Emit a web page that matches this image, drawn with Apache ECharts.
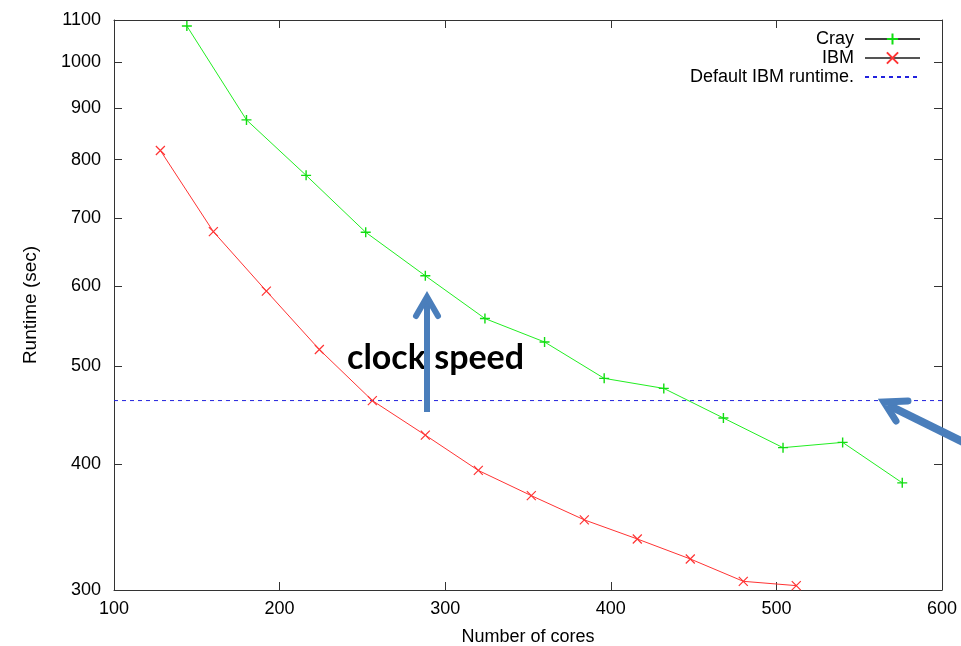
<!DOCTYPE html>
<html>
<head>
<meta charset="utf-8">
<script src="https://cdn.jsdelivr.net/npm/echarts@6/dist/echarts.min.js"></script>
<style>
  html, body { margin: 0; padding: 0; background: #fff; }
  #chart { width: 961px; height: 646px; }
</style>
</head>
<body>
<div id="chart"></div>
<script>
  // data
  const crayCores = [144, 180, 216, 252, 288, 324, 360, 396, 432, 468, 504, 540, 576];
  const crayRuntime = [1085, 876, 772, 678, 614, 557, 528, 486, 475, 444, 415, 420, 383];
  const ibmCores = [128, 160, 192, 224, 256, 288, 320, 352, 384, 416, 448, 480, 512];
  const ibmRuntime = [817, 679, 593, 519, 462, 427, 394, 372, 352, 337, 322, 306, 303];
  const defaultIbmRuntime = 462;
  const xRange = [100, 600];
  const yTicks = [300, 400, 500, 600, 700, 800, 900, 1000, 1100];

  const font = 'Liberation Sans, Arial, sans-serif';
  const axisColor = '#333';
  const arrowColor = '#4a7ebb';

  const plus = 'path://M0,5L10,5M5,0L5,10';
  const cross = 'path://M0,0L10,10M10,0L0,10';

  function yAxisCfg(pos, showLabel) {
    return {
      type: 'log',
      position: pos,
      min: yTicks[0],
      max: yTicks[yTicks.length - 1],
      name: showLabel ? 'Runtime (sec)' : '',
      nameLocation: 'middle',
      nameGap: 74,
      nameTextStyle: { fontFamily: font, fontSize: 19, color: '#000' },
      axisLine: { show: true, lineStyle: { color: axisColor, width: 1 } },
      axisTick: { show: true, inside: true, length: 8, customValues: yTicks, lineStyle: { color: axisColor } },
      axisLabel: {
        show: showLabel, customValues: yTicks, margin: 13,
        fontFamily: font, fontSize: 18, color: '#000',
        formatter: v => String(Math.round(v)),
        showMinLabel: true, showMaxLabel: true
      },
      splitLine: { show: false },
      minorTick: { show: false }
    };
  }

  function xAxisCfg(pos, showLabel) {
    return {
      type: 'value',
      position: pos,
      min: xRange[0],
      max: xRange[1],
      interval: 100,
      name: showLabel ? 'Number of cores' : '',
      nameLocation: 'middle',
      nameGap: 38,
      nameTextStyle: { fontFamily: font, fontSize: 18, color: '#000' },
      axisLine: { show: true, onZero: false, lineStyle: { color: axisColor, width: 1 } },
      axisTick: { show: true, inside: true, length: 8, lineStyle: { color: axisColor } },
      axisLabel: { show: showLabel, margin: 10, fontFamily: font, fontSize: 18, color: '#000' },
      splitLine: { show: false }
    };
  }

  const chart = echarts.init(document.getElementById('chart'), null, { renderer: 'canvas' });

  const option = {
    animation: false,
    backgroundColor: '#fff',
    grid: { left: 114, right: 19, top: 20, bottom: 56, containLabel: false, outerBoundsMode: 'none' },
    xAxis: [xAxisCfg('bottom', true), xAxisCfg('top', false)],
    yAxis: [yAxisCfg('left', true), yAxisCfg('right', false)],
    legend: {
      orient: 'vertical',
      right: 35,
      top: 25,
      align: 'right',
      itemWidth: 55,
      itemHeight: 14,
      itemGap: 1,
      textStyle: { fontFamily: font, fontSize: 18, color: '#000', padding: [0, 6, 0, 0] },
      data: [
        { name: 'Cray', lineStyle: { color: '#000', width: 1.5 } },
        { name: 'IBM', lineStyle: { color: '#555', width: 2 } },
        { name: 'Default IBM runtime.', itemStyle: { opacity: 0 } }
      ]
    },
    series: [
      {
        name: 'Cray',
        type: 'line',
        data: crayCores.map((c, i) => [c, crayRuntime[i]]),
        symbol: plus,
        symbolSize: 10,
        showSymbol: true,
        lineStyle: { color: '#22ee22', width: 1 },
        itemStyle: { color: '#22ee22', borderColor: '#11dd11', borderWidth: 1.4 }
      },
      {
        name: 'IBM',
        type: 'line',
        data: ibmCores.map((c, i) => [c, ibmRuntime[i]]),
        symbol: cross,
        symbolSize: 9,
        showSymbol: true,
        lineStyle: { color: '#ff3333', width: 1 },
        itemStyle: { color: '#ff3333', borderColor: '#ff3333', borderWidth: 1.2 }
      },
      {
        name: 'Default IBM runtime.',
        type: 'line',
        data: xRange.map(x => [x, defaultIbmRuntime]),
        symbol: 'none',
        lineStyle: { color: '#2222dd', width: 1, type: [4, 4] },
        itemStyle: { color: '#2222dd' }
      }
    ],
    graphic: [
      {
        type: 'text',
        left: 347,
        top: 341,
        style: { text: 'clock speed', font: 'bold 34px Lato, "Open Sans", sans-serif', fill: '#000' },
        z: 10
      },
      {
        type: 'polyline',
        shape: { points: [[427, 412], [427, 297]] },
        style: { stroke: arrowColor, lineWidth: 6, fill: null },
        z: 11
      },
      {
        type: 'polyline',
        shape: { points: [[416, 316], [427, 297], [438, 316]] },
        style: { stroke: arrowColor, lineWidth: 6, lineCap: 'round', lineJoin: 'miter', fill: null },
        z: 11
      },
      {
        type: 'polyline',
        shape: { points: [[975, 448], [888, 405]] },
        style: { stroke: arrowColor, lineWidth: 8, fill: null },
        z: 11
      },
      {
        type: 'polyline',
        shape: { points: [[908, 401], [884, 402], [896, 421]] },
        style: { stroke: arrowColor, lineWidth: 7, lineCap: 'round', lineJoin: 'miter', fill: null },
        z: 11
      }
    ]
  };

  chart.setOption(option);
</script>
</body>
</html>
